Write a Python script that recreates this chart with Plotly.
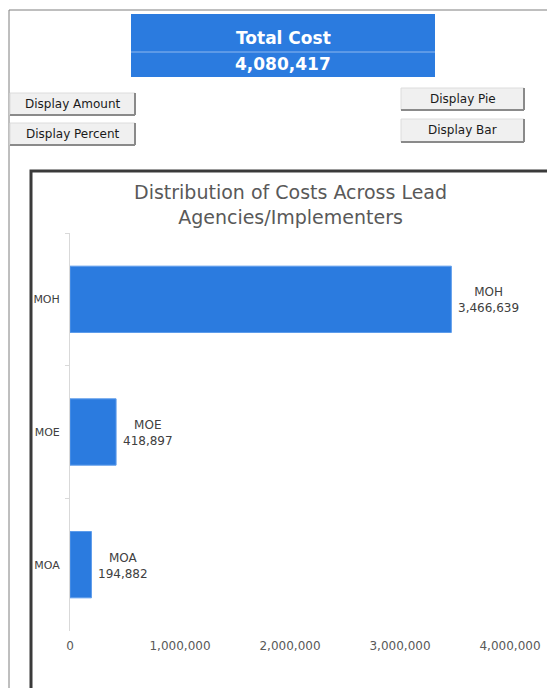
import plotly.graph_objects as go

# ---- data ----
agencies = ["MOH", "MOE", "MOA"]
costs = [3466639, 418897, 194882]
total_cost_label = "4,080,417"
x_ticks = [0, 1000000, 2000000, 3000000, 4000000]
chart_title = "Distribution of Costs Across Lead<br>Agencies/Implementers"
buttons_left = ["Display Amount", "Display Percent"]
buttons_right = ["Display Pie", "Display Bar"]

W, H = 547, 688
BLUE = "#2b7bdf"
FONT = "DejaVu Sans"


def px(x):
    return x / W


def py(y):
    return 1 - y / H


fig = go.Figure()
fig.add_trace(go.Bar(
    y=agencies, x=costs, orientation="h",
    marker=dict(color=BLUE, line=dict(color="#5d9ceb", width=1)),
    hoverinfo="skip", showlegend=False,
))

shapes = []
annotations = []


def label(x, y, text, size, color, family=FONT):
    annotations.append(dict(xref="paper", yref="paper", x=px(x), y=py(y), text=text,
                            showarrow=False, xanchor="center", yanchor="middle",
                            font=dict(family=family, size=size, color=color)))


# outer thin frame
shapes.append(dict(type="line", xref="paper", yref="paper", x0=px(9), x1=px(W + 5),
                   y0=py(10), y1=py(10), line=dict(color="#7f7f7f", width=1)))
shapes.append(dict(type="line", xref="paper", yref="paper", x0=px(9), x1=px(9),
                   y0=py(10), y1=py(H + 5), line=dict(color="#7f7f7f", width=1)))

# header box
shapes.append(dict(type="rect", xref="paper", yref="paper", x0=px(131), x1=px(435),
                   y0=py(14), y1=py(77), fillcolor=BLUE, line=dict(width=0), layer="below"))
shapes.append(dict(type="line", xref="paper", yref="paper", x0=px(131), x1=px(435),
                   y0=py(52), y1=py(52), line=dict(color="#8fb9ef", width=1)))
label(283, 38, "<b>Total Cost</b>", 17, "white")
label(283, 64, "<b>" + total_cost_label + "</b>", 17, "white")


def add_button(x0, x1, y0, y1, text):
    shapes.append(dict(type="rect", xref="paper", yref="paper", x0=px(x0), x1=px(x1),
                       y0=py(y0), y1=py(y1), fillcolor="#f0f0f0",
                       line=dict(color="#dcdcdc", width=1)))
    shapes.append(dict(type="line", xref="paper", yref="paper", x0=px(x0), x1=px(x1),
                       y0=py(y1), y1=py(y1), line=dict(color="#8a8a8a", width=2)))
    shapes.append(dict(type="line", xref="paper", yref="paper", x0=px(x1), x1=px(x1),
                       y0=py(y0), y1=py(y1), line=dict(color="#8a8a8a", width=2)))
    label((x0 + x1) / 2, (y0 + y1) / 2, text, 12, "#1a1a1a")


add_button(10, 135, 93, 115, buttons_left[0])
add_button(10, 135, 123, 145, buttons_left[1])
add_button(401, 524, 88, 110, buttons_right[0])
add_button(401, 524, 119, 142, buttons_right[1])

# chart frame (thick)
shapes.append(dict(type="rect", xref="paper", yref="paper", x0=px(31), x1=px(W + 20),
                   y0=py(171), y1=py(H + 20), line=dict(color="#3a3a3a", width=3),
                   fillcolor="rgba(0,0,0,0)"))

# chart title
label(290, 205, chart_title, 19, "#595959")

# data labels
for a, c in zip(agencies, costs):
    annotations.append(dict(x=c, y=a, xref="x", yref="y", text=f"{a}<br>{c:,}",
                            showarrow=False, xanchor="left", yanchor="middle", xshift=5,
                            yshift=-1, align="center",
                            font=dict(family=FONT, size=12, color="#404040")))

fig.update_layout(
    width=W, height=H, autosize=False,
    margin=dict(l=0, r=0, t=0, b=0, pad=0),
    paper_bgcolor="white", plot_bgcolor="white",
    bargap=0.5,
    shapes=shapes, annotations=annotations,
    font=dict(family=FONT),
    xaxis=dict(domain=[px(70), px(510)], range=[0, 4000000], tickvals=x_ticks,
               tickformat=",", showgrid=False, zeroline=False, showline=False,
               automargin=False, ticklabelstandoff=6,
               tickfont=dict(family=FONT, size=12, color="#595959"), fixedrange=True),
    yaxis=dict(domain=[py(631), py(233)], categoryorder="array", categoryarray=agencies,
               range=[2.5, -0.5], showline=True, linecolor="#d9d9d9", linewidth=1,
               ticks="outside", tickson="boundaries", ticklen=4, tickcolor="#d9d9d9",
               ticklabelstandoff=7, automargin=False,
               showgrid=False, zeroline=False,
               tickfont=dict(family=FONT, size=11, color="#404040"), fixedrange=True),
)

fig.write_html("out.html", config={"displayModeBar": False},
               post_script="document.body.style.margin='0';document.body.style.overflow='hidden';")
